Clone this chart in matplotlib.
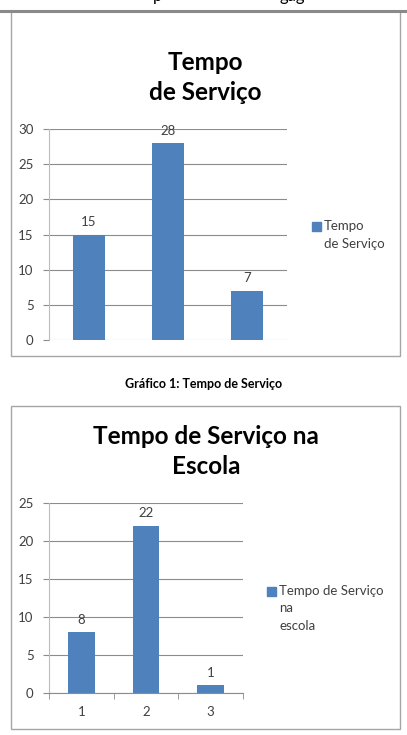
import matplotlib.pyplot as plt
from matplotlib.patches import Rectangle

plt.rcParams['font.family'] = ['Lato', 'DejaVu Sans']

# data
cats = [1, 2, 3]
servico = [15, 28, 7]
escola = [8, 22, 1]
bar_color = '#4F81BD'

W, H = 407, 735
fig = plt.figure(figsize=(W / 100, H / 100), dpi=100)


def rect(x0, y0, x1, y1):
    # pixel box (top-left origin) -> figure fraction
    return [x0 / W, 1 - y1 / H, (x1 - x0) / W, (y1 - y0) / H]


def fy(y):
    return 1 - y / H


def fx(x):
    return x / W


# header remnant at the very top of the page (only descenders visible)
fig.text(fx(158), fy(0.5), 'p', fontsize=12, color='black', ha='center', va='baseline')
fig.text(fx(292), fy(0.5), 'gag', fontsize=12, color='black', ha='center', va='baseline')
fig.add_artist(plt.Line2D([0, 1], [fy(10.5), fy(10.5)], color='#8a8a8a', lw=2.2,
                          transform=fig.transFigure))

# chart borders
for (y0, y1) in [(11, 356), (406, 729)]:
    fig.add_artist(Rectangle((fx(11), fy(y1)), fx(400) - fx(11), fy(y0) - fy(y1),
                             transform=fig.transFigure, fill=False,
                             edgecolor='#a6a6a6', lw=1.0))

LBL = 9.5
TXT = '#404040'


def style_axes(ax, ymax, step):
    ax.set_ylim(0, ymax)
    ax.set_xlim(0.5, 3.5)
    ax.set_yticks(range(0, ymax + 1, step))
    ax.yaxis.grid(True, color='#8c8c8c', lw=0.8)
    ax.set_axisbelow(True)
    for s in ['top', 'right', 'bottom']:
        ax.spines[s].set_visible(False)
    ax.spines['left'].set_color('#bcbcbc')
    ax.tick_params(axis='y', colors='#8c8c8c', labelcolor=TXT,
                   labelsize=LBL, length=4, pad=7)


# chart 1
ax1 = fig.add_axes(rect(49, 129, 287, 340))
ax1.bar(cats, servico, width=0.4, color=bar_color)
style_axes(ax1, 30, 5)
ax1.set_xticks([])
for x, v in zip(cats, servico):
    ax1.annotate(str(v), (x, v), xytext=(0, 9), textcoords='offset points',
                 ha='center', va='center', fontsize=LBL, color=TXT)

fig.text(fx(205), fy(62), 'Tempo', fontsize=17.5, fontweight='bold', ha='center', va='center')
fig.text(fx(205), fy(92), 'de Serviço', fontsize=17.5, fontweight='bold', ha='center', va='center')

fig.add_artist(Rectangle((fx(312), fy(230.5)), fx(8.5), fy(0) - fy(8.5),
                         transform=fig.transFigure, color=bar_color))
fig.text(fx(324), fy(226), 'Tempo', fontsize=LBL, color=TXT, va='center')
fig.text(fx(324), fy(244), 'de Serviço', fontsize=LBL, color=TXT, va='center')

fig.text(fx(204), fy(384), 'Gráfico 1: Tempo de Serviço', fontsize=9,
         fontweight='bold', ha='center', va='center')

# chart 2
ax2 = fig.add_axes(rect(49, 503, 243, 693))
ax2.bar(cats, escola, width=0.41, color=bar_color)
style_axes(ax2, 25, 5)
ax2.spines['bottom'].set_visible(True)
ax2.spines['bottom'].set_color('#8c8c8c')
ax2.set_xticks(cats)
ax2.set_xticks([0.5, 1.5, 2.5, 3.5], minor=True)
ax2.tick_params(axis='x', which='major', length=0, labelsize=LBL,
                labelcolor=TXT, pad=9)
ax2.tick_params(axis='x', which='minor', length=4, color='#8c8c8c')
for x, v in zip(cats, escola):
    ax2.annotate(str(v), (x, v), xytext=(0, 9), textcoords='offset points',
                 ha='center', va='center', fontsize=LBL, color=TXT)

fig.text(fx(206), fy(436), 'Tempo de Serviço na', fontsize=17.5, fontweight='bold',
         ha='center', va='center')
fig.text(fx(206), fy(467), 'Escola', fontsize=17.5, fontweight='bold',
         ha='center', va='center')

fig.add_artist(Rectangle((fx(267), fy(595.5)), fx(8.5), fy(0) - fy(8.5),
                         transform=fig.transFigure, color=bar_color))
fig.text(fx(279), fy(591), 'Tempo de Serviço', fontsize=LBL, color=TXT, va='center')
fig.text(fx(279), fy(608), 'na', fontsize=LBL, color=TXT, va='center')
fig.text(fx(279), fy(626), 'escola', fontsize=LBL, color=TXT, va='center')

fig.savefig('out.png', dpi=100, facecolor='white')
